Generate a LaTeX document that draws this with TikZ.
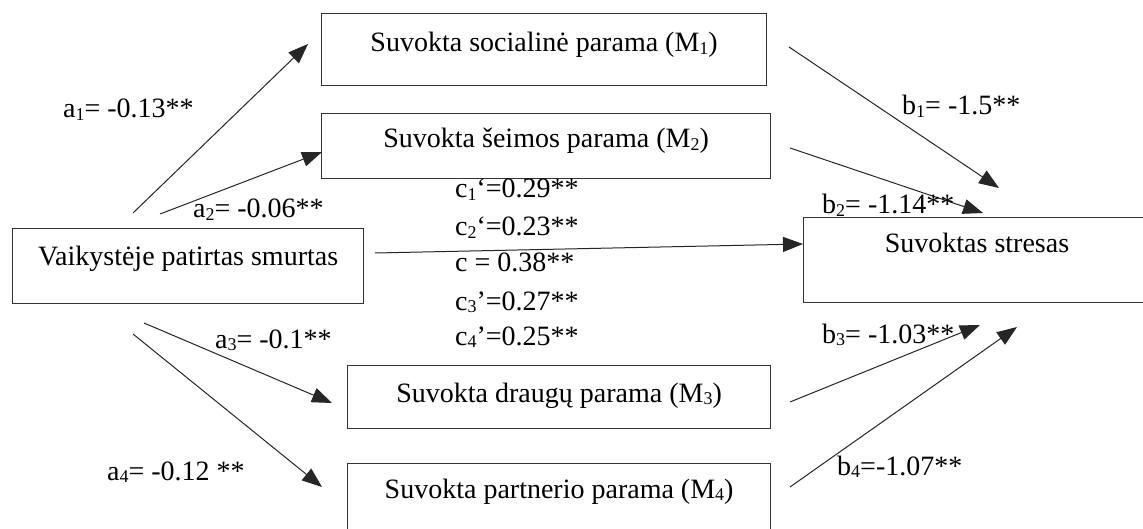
\documentclass[tikz,border=0pt]{standalone}
\usepackage{fontspec}
\setmainfont{Liberation Serif}
\usetikzlibrary{arrows.meta}
\newcommand{\myidx}[1]{{\fontsize{18}{18}\selectfont\raisebox{-2.5pt}{#1}}}
\tikzset{
  boxnode/.style={draw=black!80, line width=1.2pt, anchor=north west, inner sep=0pt},
  boxtext/.style={anchor=base, inner sep=0pt, font=\fontsize{28}{34}\selectfont},
  lbl/.style={anchor=base west, inner sep=0pt, font=\fontsize{28}{34}\selectfont},
  conn/.style={draw=black!85, line width=1pt, -{Triangle[length=20pt,width=15pt]}}
}
\begin{document}
\begin{tikzpicture}[x=1pt,y=-1pt]
\useasboundingbox (0,0) rectangle (1143,529);
\clip (0,0) rectangle (1143,529);
\fill[white] (0,0) rectangle (1143,529);
% boxes
\node[boxnode, minimum width=445pt, minimum height=72pt] (m1) at (321,13) {};
\node[boxnode, minimum width=449pt, minimum height=65pt] (m2) at (321,113) {};
\node[boxnode, minimum width=351pt, minimum height=75pt] (x) at (12,228) {};
\node[boxnode, minimum width=400pt, minimum height=85pt] (y) at (803,217) {};
\node[boxnode, minimum width=423pt, minimum height=63pt] (m3) at (347,365) {};
\node[boxnode, minimum width=423pt, minimum height=90pt] (m4) at (347,463) {};
% box texts
\node[boxtext] (m1t) at ([yshift=-39pt]m1.north) {Suvokta socialinė parama (M\myidx{1})};
\node[boxtext] (m2t) at ([yshift=-35pt]m2.north) {Suvokta šeimos parama (M\myidx{2})};
\node[boxtext] (xt) at ([yshift=-38pt]x.north) {Vaikystėje patirtas smurtas};
\node[boxtext] (yt) at (977,253) {Suvoktas stresas};
\node[boxtext] (m3t) at ([yshift=-37pt]m3.north) {Suvokta draugų parama (M\myidx{3})};
\node[boxtext] (m4t) at ([yshift=-35pt]m4.north) {Suvokta partnerio parama (M\myidx{4})};
% connector end points
\coordinate (a1s) at (133,213); \coordinate (a1e) at (308,44);
\coordinate (a2s) at (160,214); \coordinate (a2e) at (322,152);
\coordinate (a3s) at (144,323); \coordinate (a3e) at (332,403);
\coordinate (a4s) at (133,334); \coordinate (a4e) at (322,487);
\coordinate (b1s) at (789,47);  \coordinate (b1e) at (999,188);
\coordinate (b2s) at (790,148); \coordinate (b2e) at (983,213);
\coordinate (b3s) at (790,402); \coordinate (b3e) at (980,325);
\coordinate (b4s) at (790,487); \coordinate (b4e) at (1017,327);
\coordinate (cs) at (375,253);
% connectors
\draw[conn] (a1s) -- (a1e);
\draw[conn] (a2s) -- (a2e);
\draw[conn] (a3s) -- (a3e);
\draw[conn] (a4s) -- (a4e);
\draw[conn] (b1s) -- (b1e);
\draw[conn] (b2s) -- (b2e);
\draw[conn] (b3s) -- (b3e);
\draw[conn] (b4s) -- (b4e);
\draw[conn] (cs) -- (y.west |- 0,244);
% labels
\node[lbl] (la1) at (63,118) {a\myidx{1}= -0.13**};
\node[lbl] (la2) at (193,218) {a\myidx{2}= -0.06**};
\node[lbl] (la3) at (215,348) {a\myidx{3}= -0.1**};
\node[lbl] (la4) at (107,480) {a\myidx{4}= -0.12 **};
\node[lbl] (lb1) at (902,115) {b\myidx{1}= -1.5**};
\node[lbl] (lb2) at (822,214) {b\myidx{2}= -1.14**};
\node[lbl] (lb3) at (822,343) {b\myidx{3}= -1.03**};
\node[lbl] (lb4) at (837,475) {b\myidx{4}=-1.07**};
\node[lbl] (lc1) at (455,198) {c\myidx{1}‘=0.29**};
\node[lbl] (lc2) at (455,236) {c\myidx{2}‘=0.23**};
\node[lbl] (lc) at (455,272) {c = 0.38**};
\node[lbl] (lc3) at (455,310) {c\myidx{3}’=0.27**};
\node[lbl] (lc4) at (455,345) {c\myidx{4}’=0.25**};
\end{tikzpicture}
\end{document}
